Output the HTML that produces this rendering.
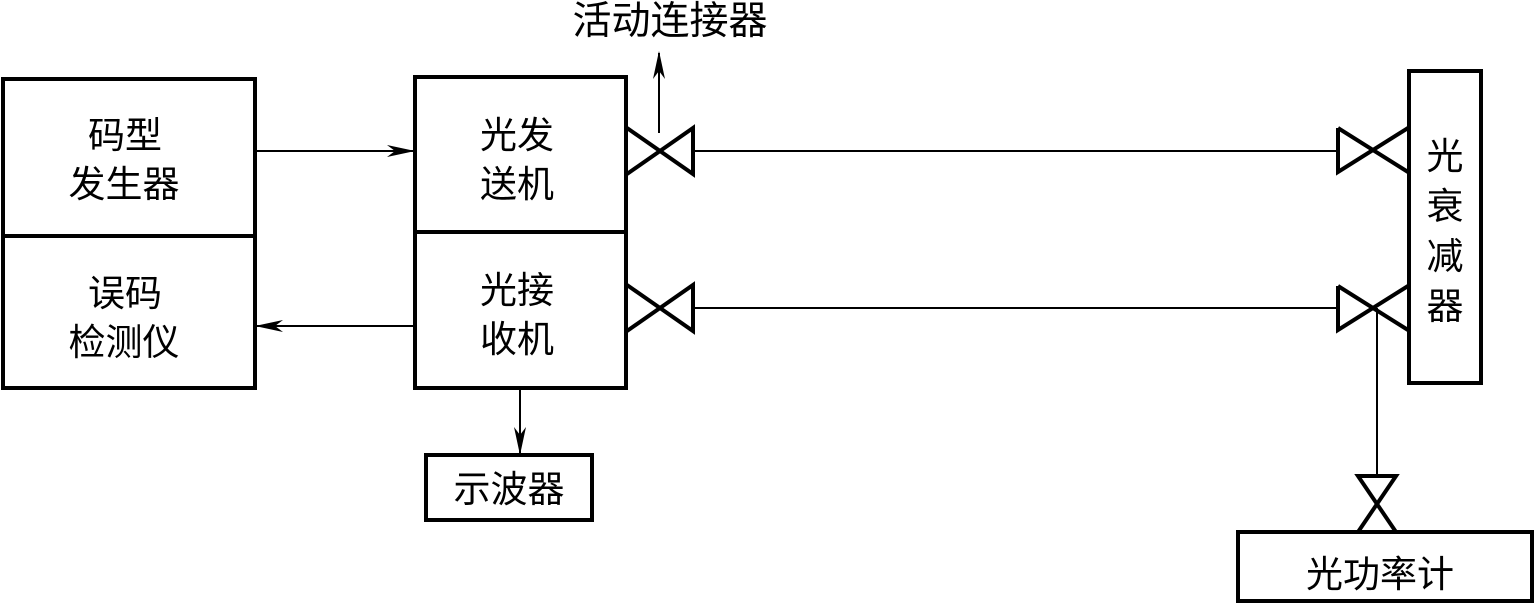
<!DOCTYPE html>
<html><head><meta charset="utf-8"><style>
html,body{margin:0;padding:0;background:#fff;}
svg{display:block;}
text{font-family:"WenQuanYi Zen Hei","Noto Sans CJK SC",sans-serif;font-size:37px;fill:#000;text-anchor:middle;}
</style></head><body>
<svg width="1536" height="604" viewBox="0 0 1536 604" xmlns="http://www.w3.org/2000/svg">
<defs>
<marker id="ar" markerWidth="28" markerHeight="14" refX="26" refY="7" orient="auto" markerUnits="userSpaceOnUse">
<path d="M0,1 L28,7 L0,13 L8,7 Z" fill="#000"/>
</marker>
</defs>
<g fill="none" stroke="#000" stroke-width="4">
<rect x="3" y="79" width="252" height="157"/>
<rect x="3" y="236" width="252" height="152"/>
<rect x="415" y="77" width="211" height="155"/>
<rect x="415" y="232" width="211" height="156"/>
<rect x="426" y="455" width="166" height="65"/>
<rect x="1409" y="71" width="72" height="312"/>
<rect x="1238" y="532" width="294" height="69"/>
<path d="M627,128 L693,174 L693,128 L627,174"/>
<path d="M627,285 L693,331 L693,285 L627,331"/>
<path d="M1338,128 L1408,172 M1408,128 L1338,172 L1338,128"/>
<path d="M1338,286 L1408,330 M1408,286 L1338,330 L1338,286"/>
<path d="M1358,476 L1396,476 L1358,532 L1396,532 Z"/>
</g>
<g stroke="#000" stroke-width="2" fill="none">
<line x1="693" y1="151" x2="1338" y2="151"/>
<line x1="693" y1="308" x2="1338" y2="308"/>
<line x1="1377" y1="308" x2="1377" y2="476"/>
<line x1="255" y1="151" x2="413" y2="151" marker-end="url(#ar)"/>
<line x1="414" y1="326" x2="257" y2="326" marker-end="url(#ar)"/>
<line x1="520" y1="388" x2="520" y2="453" marker-end="url(#ar)"/>
<line x1="659" y1="133" x2="659" y2="53" marker-end="url(#ar)"/>
</g>
<text x="125" y="148">码型</text>
<text x="124" y="197">发生器</text>
<text x="125" y="306">误码</text>
<text x="124" y="355">检测仪</text>
<text x="517" y="148">光发</text>
<text x="517" y="197">送机</text>
<text x="517" y="303">光接</text>
<text x="517" y="352">收机</text>
<text x="509" y="502">示波器</text>
<text x="1380" y="587">光功率计</text>
<text style="font-size:39px" x="670" y="34">活动连接器</text>
<text x="1445" y="169">光</text>
<text x="1445" y="219">衰</text>
<text x="1445" y="269">减</text>
<text x="1445" y="319">器</text>
</svg>
</body></html>
